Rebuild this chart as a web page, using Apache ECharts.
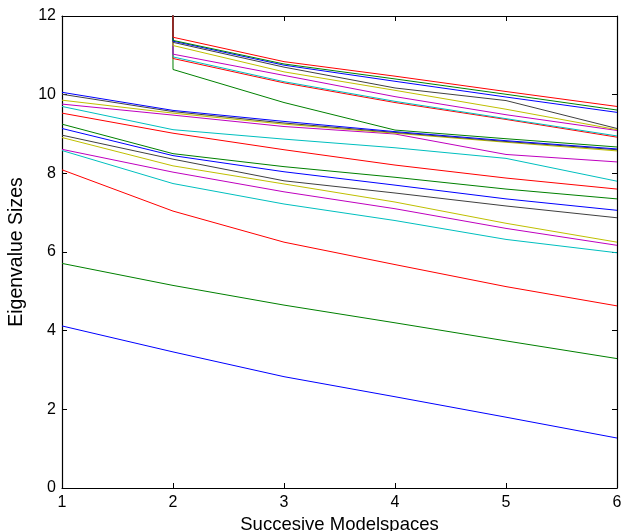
<!DOCTYPE html>
<html>
<head>
<meta charset="utf-8">
<script src="https://cdn.jsdelivr.net/npm/echarts@6/dist/echarts.min.js"></script>
<style>
  html, body { margin: 0; padding: 0; background: #fff; }
  #chart { width: 623px; height: 531px; }
</style>
</head>
<body>
<div id="chart"></div>
<script>
// Model spaces along the x axis
const modelspaces = [1, 2, 3, 4, 5, 6];
const xTicks = [1, 2, 3, 4, 5, 6];
const yTicks = [0, 2, 4, 6, 8, 10, 12];

// Eigenvalue sizes per model space, smallest first.
// Eigenvalues 16-24 are very large in the first model space (off scale).
const eig01 = [4.12, 3.46, 2.83, 2.32, 1.80, 1.27];
const eig02 = [5.71, 5.15, 4.65, 4.20, 3.74, 3.29];
const eig03 = [8.09, 7.04, 6.25, 5.68, 5.12, 4.63];
const eig04 = [8.58, 7.74, 7.22, 6.80, 6.32, 5.98];
const eig05 = [8.61, 8.03, 7.53, 7.10, 6.60, 6.17];
const eig06 = [8.91, 8.19, 7.73, 7.27, 6.73, 6.25];
const eig07 = [8.97, 8.36, 7.81, 7.50, 7.17, 6.87];
const eig08 = [9.14, 8.45, 8.04, 7.70, 7.35, 7.06];
const eig09 = [9.25, 8.50, 8.17, 7.90, 7.60, 7.35];
const eig10 = [9.53, 9.02, 8.60, 8.21, 7.88, 7.60];
const eig11 = [9.70, 9.11, 8.87, 8.65, 8.38, 7.80];
const eig12 = [9.76, 9.48, 9.19, 9.00, 8.48, 8.29];
const eig13 = [9.86, 9.53, 9.25, 9.02, 8.79, 8.57];
const eig14 = [10.01, 9.57, 9.28, 9.04, 8.81, 8.60];
const eig15 = [10.06, 9.60, 9.32, 9.06, 8.83, 8.62];
const eig16 = [1000, 10.64, 9.80, 9.10, 8.88, 8.67];
const eig17 = [1000, 10.92, 10.30, 9.80, 9.37, 8.92];
const eig18 = [1000, 10.96, 10.33, 9.83, 9.39, 8.95];
const eig19 = [1000, 11.03, 10.49, 9.95, 9.49, 9.09];
const eig20 = [1000, 11.25, 10.58, 10.11, 9.63, 9.11];
const eig21 = [1000, 11.33, 10.70, 10.17, 9.85, 9.14];
const eig22 = [1000, 11.36, 10.75, 10.34, 9.94, 9.55];
const eig23 = [1000, 11.38, 10.78, 10.40, 10.01, 9.61];
const eig24 = [1000, 11.46, 10.84, 10.47, 10.08, 9.70];

const eigenvalues = [eig01, eig02, eig03, eig04, eig05, eig06, eig07, eig08,
  eig09, eig10, eig11, eig12, eig13, eig14, eig15, eig16, eig17, eig18,
  eig19, eig20, eig21, eig22, eig23, eig24];

// Classic line colour order: b g r c m y k
const colorOrder = ['#0000ff', '#008000', '#ff0000', '#00bfbf', '#bf00bf', '#bfbf00', '#404040'];

const FONT = 'Liberation Sans, Arial, Helvetica, sans-serif';

const chart = echarts.init(document.getElementById('chart'), null, { renderer: 'canvas' });

const tickStyle = { show: true, inside: true, length: 5, lineStyle: { color: '#000', width: 1 } };
const lineStyle = { show: true, onZero: false, lineStyle: { color: '#000', width: 1.2 } };

const series = eigenvalues.map((vals, i) => ({
  type: 'line',
  data: modelspaces.map((x, j) => [x, vals[j]]),
  showSymbol: false,
  symbol: 'none',
  clip: true,
  lineStyle: { color: colorOrder[i % colorOrder.length], width: 1 },
  itemStyle: { color: colorOrder[i % colorOrder.length] },
  emphasis: { disabled: true },
  silent: true,
  z: 2
}));

chart.setOption({
  animation: false,
  backgroundColor: '#fff',
  grid: { left: 62, right: 6, top: 16, bottom: 43, containLabel: false, outerBoundsMode: 'none' },
  xAxis: [
    {
      type: 'value', position: 'bottom',
      min: xTicks[0], max: xTicks[xTicks.length - 1], interval: 1,
      axisLine: lineStyle, axisTick: tickStyle, splitLine: { show: false },
      axisLabel: { color: '#000', fontSize: 16, fontFamily: FONT, margin: 7 },
      name: 'Succesive Modelspaces', nameLocation: 'middle', nameGap: 22,
      nameTextStyle: { color: '#000', fontSize: 18.5, fontFamily: FONT }
    },
    {
      type: 'value', position: 'top',
      min: xTicks[0], max: xTicks[xTicks.length - 1], interval: 1,
      axisLine: lineStyle, axisTick: tickStyle, splitLine: { show: false },
      axisLabel: { show: false }
    }
  ],
  yAxis: [
    {
      type: 'value', position: 'left',
      min: yTicks[0], max: yTicks[yTicks.length - 1], interval: 2,
      axisLine: lineStyle, axisTick: tickStyle, splitLine: { show: false },
      axisLabel: { color: '#000', fontSize: 16, fontFamily: FONT, margin: 6 },
      name: 'Eigenvalue Sizes', nameLocation: 'middle', nameGap: 35,
      nameTextStyle: { color: '#000', fontSize: 19.5, fontFamily: FONT }
    },
    {
      type: 'value', position: 'right',
      min: yTicks[0], max: yTicks[yTicks.length - 1], interval: 2,
      axisLine: lineStyle, axisTick: tickStyle, splitLine: { show: false },
      axisLabel: { show: false }
    }
  ],
  series: series
});
</script>
</body>
</html>
